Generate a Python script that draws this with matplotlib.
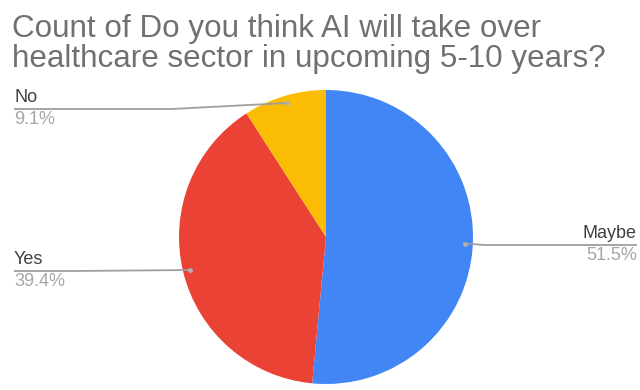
import matplotlib
matplotlib.use("Agg")
import matplotlib.pyplot as plt
import numpy as np

# Survey answers and their shares (%)
answers = ["Maybe", "Yes", "No"]
shares = [51.5, 39.4, 9.1]
colors = ["#4285F4", "#EA4335", "#FBBC04"]
title_lines = ["Count of Do you think AI will take over",
               "healthcare sector in upcoming 5-10 years?"]

W, H = 640, 390
plt.rcParams["font.family"] = ["Liberation Sans", "DejaVu Sans"]

fig = plt.figure(figsize=(W / 100, H / 100), dpi=100)
ax = fig.add_axes([0, 0, 1, 1])

cx, cy, r = 326, H - 237, 147
wedges, _ = ax.pie(shares, colors=colors, startangle=90, counterclock=False,
                   center=(cx, cy), radius=r, frame=True,
                   wedgeprops=dict(linewidth=0))
ax.set_xlim(0, W)
ax.set_ylim(0, H)
ax.set_aspect("equal")
ax.axis("off")

# Leader label layout: side, y of the leader line (px from top)
layout = {"Maybe": ("right", 245), "Yes": ("left", 271), "No": ("left", 109)}
line_col = "#9e9e9e"
for w, name, pct in zip(wedges, answers, shares):
    th = np.deg2rad((w.theta1 + w.theta2) / 2)
    dx, dy = cx + 0.95 * r * np.cos(th), cy + 0.95 * r * np.sin(th)
    side, ly_px = layout[name]
    ly = H - ly_px
    if side == "left":
        xe, xb, ha = 14, dx - 115, "left"
    else:
        xe, xb, ha = 637, dx + 20, "right"
    ax.plot([xe, xb, dx], [ly, ly, dy], color=line_col, lw=1.3,
            solid_capstyle="butt", zorder=3)
    ax.plot([dx], [dy], "o", ms=3.5, color="#b0b0b0", mec="none", zorder=4)
    ax.text(xe, ly + 3, name, ha=ha, va="bottom", fontsize=13, color="#404040")
    ax.text(xe, ly - 2, f"{pct:.1f}%", ha=ha, va="top", fontsize=13,
            color="#a6a6a6")

fig.text(12 / W, 1 - 14 / H, "\n".join(title_lines), ha="left", va="top",
         fontsize=22.6, color="#707070", linespacing=1.0)

fig.savefig("out.png", dpi=100)
